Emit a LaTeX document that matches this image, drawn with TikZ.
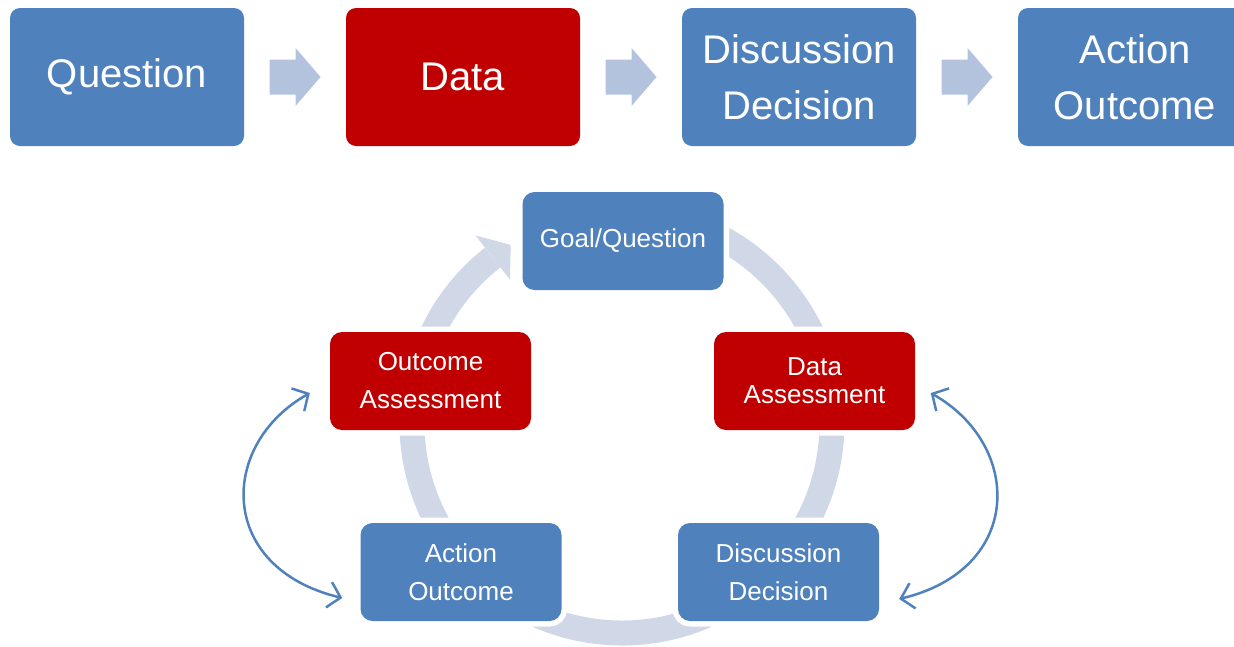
\documentclass[tikz,border=0pt]{standalone}
\usepackage{fontspec}
\setmainfont{Liberation Sans}
\usetikzlibrary{calc,arrows.meta}
\definecolor{boxblue}{HTML}{4F81BD}
\definecolor{boxred}{HTML}{C00000}
\definecolor{chevcol}{HTML}{B3C3DE}
\definecolor{ringcol}{HTML}{D0D8E8}
\begin{document}
\begin{tikzpicture}[x=1pt,y=-1pt,
  bigbox/.style={rounded corners=10pt, minimum width=234pt, minimum height=138pt, inner sep=0pt, text=white, align=center, font=\fontsize{40}{56}\selectfont},
  smallbox/.style={rounded corners=12pt, minimum width=201pt, minimum height=98pt, inner sep=0pt, text=white, align=center, font=\fontsize{26}{38}\selectfont, preaction={draw=white, line width=11pt}},
  bluefill/.style={fill=boxblue},
  redfill/.style={fill=boxred},
  chev/.style={fill=chevcol},
  ring/.style={draw=ringcol, line width=25pt},
  ringhead/.style={fill=ringcol},
  link/.style={draw=boxblue, line width=2.5pt, {Straight Barb[length=12pt,width=26pt]}-{Straight Barb[length=12pt,width=26pt]}}
]
\useasboundingbox (0,0) rectangle (1234,646);
\clip (0,0) rectangle (1234,646);

% top row
\node[bigbox, bluefill] (q) at (127,77) {Question};
\node[bigbox, redfill] (d) at (463,77) {Data};
\node[bigbox, bluefill] (dd0) at (799,77) {Discussion\\Decision};
\node[bigbox, bluefill] (ao0) at (1135,77) {Action\\Outcome};

\fill[chev, shift={($(q.east)!0.5!(d.west)$)}] (-25.5,-17.5) -- (0.5,-17.5) -- (0.5,-29) -- (25.5,0) -- (0.5,29) -- (0.5,17.5) -- (-25.5,17.5) -- cycle;
\fill[chev, shift={($(d.east)!0.5!(dd0.west)$)}] (-25.5,-17.5) -- (0.5,-17.5) -- (0.5,-29) -- (25.5,0) -- (0.5,29) -- (0.5,17.5) -- (-25.5,17.5) -- cycle;
\fill[chev, shift={($(dd0.east)!0.5!(ao0.west)$)}] (-25.5,-17.5) -- (0.5,-17.5) -- (0.5,-29) -- (25.5,0) -- (0.5,29) -- (0.5,17.5) -- (-25.5,17.5) -- cycle;

% cycle ring
\coordinate (ctr) at (622,423);
\draw[ring] (ctr) ++(-85:210) arc[start angle=-85, end angle=232, radius=210];
\fill[ringhead] ($(ctr)+(232:238)$) -- ($(ctr)+(238:210)$) -- ($(ctr)+(232:182)$) -- cycle;

% cycle boxes
\node[smallbox, bluefill] (g) at (623,241) {Goal/Question};
\node[smallbox, redfill] (oa) at (430.5,381) {Outcome\\Assessment};
\node[smallbox, redfill, font=\fontsize{26}{28}\selectfont] (da) at (814.5,381) {Data\\Assessment};
\node[smallbox, bluefill] (ao) at (461,572) {Action\\Outcome};
\node[smallbox, bluefill] (dd) at (778.5,572) {Discussion\\Decision};

% curved double arrows
\coordinate (la) at ($(oa.west)+(-20,12)$);
\coordinate (lb) at ($(ao.west)+(-18,26)$);
\coordinate (ra) at ($(da.east)+(15.5,12)$);
\coordinate (rb) at ($(dd.east)+(20,27)$);
\draw[link] (lb) .. controls +(-125,-30) and +(-92,52) .. (la);
\draw[link] (rb) .. controls +(125,-30) and +(92,52) .. (ra);
\end{tikzpicture}
\end{document}
